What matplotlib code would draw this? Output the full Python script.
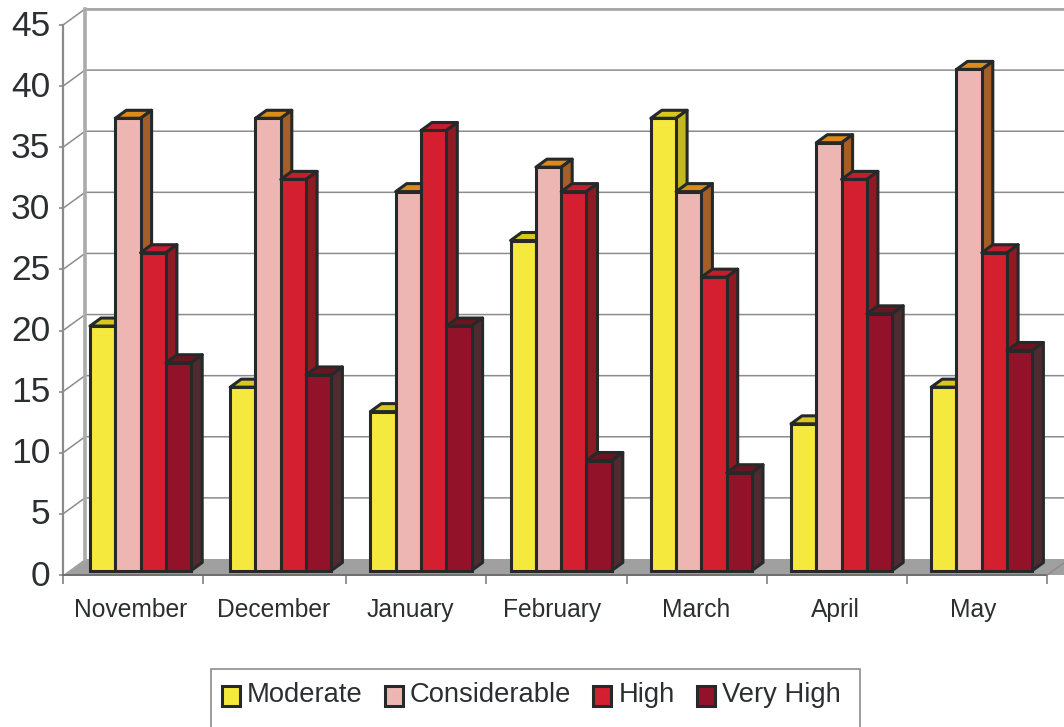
import matplotlib
matplotlib.use("Agg")
import matplotlib.pyplot as plt
from matplotlib.patches import Polygon, Rectangle, Patch
from matplotlib.transforms import Affine2D

months = ["November", "December", "January", "February", "March", "April", "May"]
moderate = [20, 15, 13, 27, 37, 12, 15]
considerable = [37, 37, 31, 33, 31, 35, 41]
high = [26, 32, 36, 31, 24, 32, 26]
very_high = [17, 16, 20, 9, 8, 21, 18]
series_names = ["Moderate", "Considerable", "High", "Very High"]
series_values = [moderate, considerable, high, very_high]
front_colors = ["#F5E93D", "#EEB6B2", "#D31F30", "#921229"]
top_colors = ["#D8C81E", "#DC8A1A", "#C41E2E", "#6B1520"]
side_colors = ["#C4B81F", "#A55E26", "#8E1B24", "#4F2B2F"]
y_ticks = list(range(0, 50, 5))
x_edges = [0, 1, 2.02, 3.02, 4.02, 5.02, 6.02, 7.02]
label_pos = [0.485, 1.505, 2.48, 3.486, 4.514, 5.506, 6.49]

W, H = 1064, 727
plt.rcParams["font.family"] = ["Liberation Sans", "DejaVu Sans"]
fig = plt.figure(figsize=(W / 100, H / 100), dpi=100)
L, R, T, B = 63, 63 + 140.2 * 7.02, 25, 575
ax = fig.add_axes([L / W, 1 - B / H, (R - L) / W, (B - T) / H])
ax.set_xlim(0, 7.02)
ax.set_ylim(0, 45)
ax.patch.set_visible(False)
for s in ax.spines.values():
    s.set_visible(False)

sx, sy = 140.2, (B - T) / 45      # pixels per data unit
wall_dx, wall_dy = 22 / sx, 16 / sy
xmax = (W - L) / sx
LINE = "#8C8C8C"

# floor
ax.add_patch(Polygon([(0, 0), (wall_dx, wall_dy), (xmax + 1, wall_dy), (xmax + 1, 0)],
                     fc="#A0A0A0", ec="none", zorder=1, clip_on=False))
# walls and grid
for v in y_ticks[1:]:
    ax.plot([0, wall_dx, xmax], [v, v + wall_dy, v + wall_dy], color=LINE, lw=1.1, zorder=1.5,
            clip_on=False)
ax.plot([wall_dx, xmax], [45 + wall_dy, 45 + wall_dy], color="#A8A8A8", lw=2.0, zorder=1.6,
        clip_on=False)
ax.plot([wall_dx, wall_dx], [wall_dy, 45 + wall_dy], color="#ABABAB", lw=2.6, zorder=1.6,
        clip_on=False)
ax.plot([0, 0], [0, 45], color="#8A8A8A", lw=1.6, zorder=1.7, clip_on=False)
ax.plot([0, 7.02], [0, 0], color="#6E6E6E", lw=1.4, zorder=1.7, clip_on=False)
ax.plot([7.02, xmax], [0, (W - R) * 16 / 22 / sy], color=LINE, lw=1.1, zorder=1.7, clip_on=False)

# bars
bar_w = 25.3 / sx
x0 = 27 / sx
oy = 4.5 / sy
ddx, ddy = 11 / sx, 8 / sy
EDGE = "#25292A"
LW = 2.2
for i in range(len(months)):
    for j, vals in enumerate(series_values):
        x = i + x0 + j * bar_w
        v = vals[i]
        z = 3 + i + j * 0.1
        ax.bar(x, v, width=bar_w, bottom=oy, align="edge", color=front_colors[j], edgecolor=EDGE,
               linewidth=LW, zorder=z + 0.02, clip_on=False)
        top = v + oy
        ax.add_patch(Polygon([(x, top), (x + ddx, top + ddy), (x + bar_w + ddx, top + ddy), (x + bar_w, top)],
                             fc=top_colors[j], ec=EDGE, lw=LW, joinstyle="round", zorder=z, clip_on=False))
        ax.add_patch(Polygon([(x + bar_w, top), (x + bar_w + ddx, top + ddy), (x + bar_w + ddx, oy + ddy), (x + bar_w, oy)],
                             fc=side_colors[j], ec=EDGE, lw=LW, joinstyle="round", zorder=z, clip_on=False))

# axes ticks and labels
ax.set_yticks(y_ticks)
ax.set_yticklabels([str(v) for v in y_ticks], fontsize=25.5, color="#2B2F30")
ax.tick_params(axis="y", length=3, width=1.2, color="#8A8A8A", pad=6.2)
for lab in ax.get_yticklabels():
    lab.set_transform(lab.get_transform() + Affine2D().translate(0, 2.5))
ax.set_xticks(x_edges)
ax.set_xticklabels([])
ax.tick_params(axis="x", which="major", length=6.5, width=1.1, color="#777777")
ax.set_xticks(label_pos, minor=True)
ax.set_xticklabels(months, minor=True, fontsize=17.7, color="#2B2F30")
ax.tick_params(axis="x", which="minor", length=0, pad=16.5)

# legend
fig.add_artist(Rectangle((211 / W, -0.02), (860 - 211) / W, 1 - 669 / H + 0.02,
                         transform=fig.transFigure, fc="white", ec="#8C8C8C", lw=1.2, zorder=5))
handles = [Patch(facecolor=c, edgecolor=EDGE, linewidth=2.2, label=n)
           for c, n in zip(front_colors, series_names)]
leg = fig.legend(handles=handles, ncol=4, loc="center left",
                 bbox_to_anchor=(222 / W, 1 - 695 / H), frameon=False, fontsize=19.7,
                 handlelength=0.66, handleheight=0.72, handletextpad=0.26, columnspacing=0.80,
                 borderpad=0, borderaxespad=0, labelcolor="#2B2F30")
leg.set_zorder(6)
for p in leg.get_patches():
    p.set_y(p.get_y() - 2.5)

fig.savefig("out.png", dpi=100, facecolor="white")
